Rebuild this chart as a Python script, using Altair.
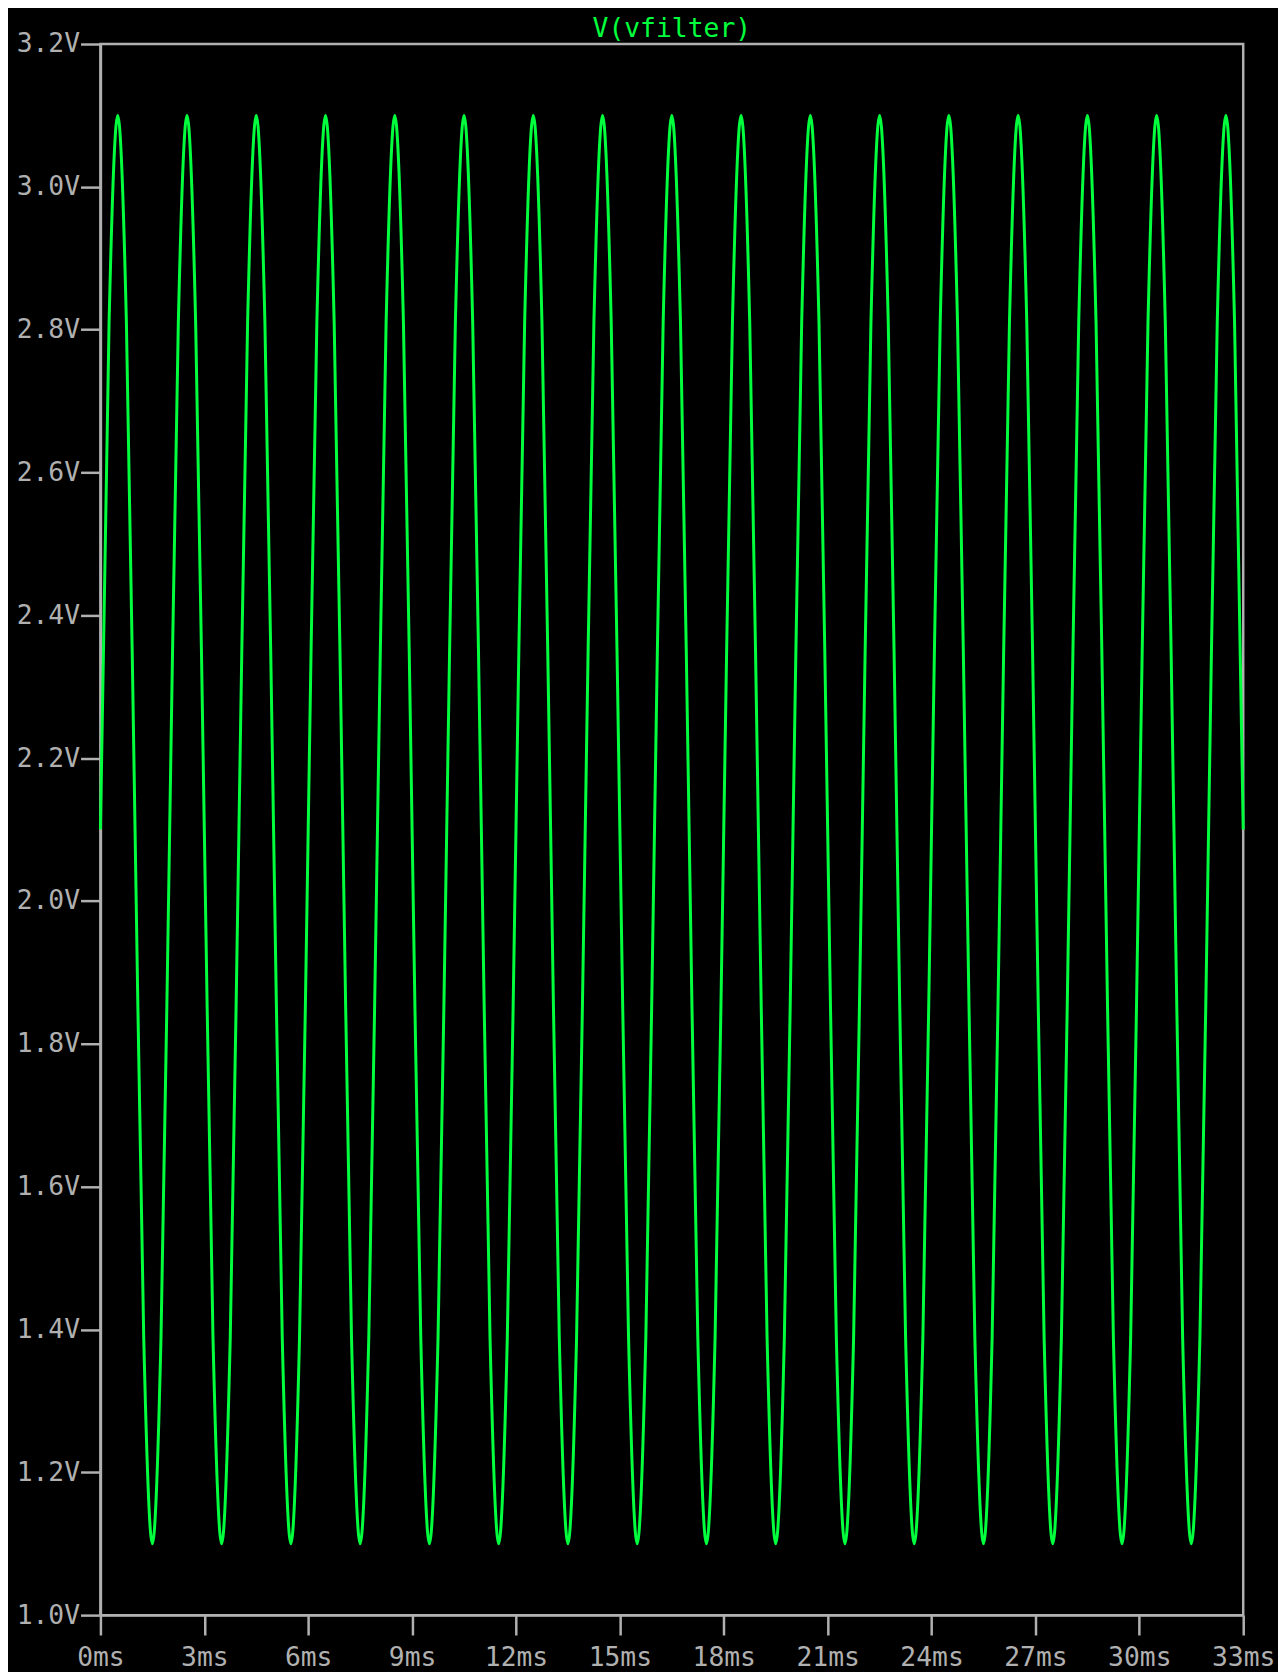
import altair as alt
import pandas as pd

# Voltage of V(vfilter) every 0.25 ms, 0 .. 33 ms
v_volts = [
    2.10, 2.81, 3.10, 2.81, 2.10, 1.39, 1.10, 1.39,
    2.10, 2.81, 3.10, 2.81, 2.10, 1.39, 1.10, 1.39,
    2.10, 2.81, 3.10, 2.81, 2.10, 1.39, 1.10, 1.39,
    2.10, 2.81, 3.10, 2.81, 2.10, 1.39, 1.10, 1.39,
    2.10, 2.81, 3.10, 2.81, 2.10, 1.39, 1.10, 1.39,
    2.10, 2.81, 3.10, 2.81, 2.10, 1.39, 1.10, 1.39,
    2.10, 2.81, 3.10, 2.81, 2.10, 1.39, 1.10, 1.39,
    2.10, 2.81, 3.10, 2.81, 2.10, 1.39, 1.10, 1.39,
    2.10, 2.81, 3.10, 2.81, 2.10, 1.39, 1.10, 1.39,
    2.10, 2.81, 3.10, 2.81, 2.10, 1.39, 1.10, 1.39,
    2.10, 2.81, 3.10, 2.81, 2.10, 1.39, 1.10, 1.39,
    2.10, 2.81, 3.10, 2.81, 2.10, 1.39, 1.10, 1.39,
    2.10, 2.81, 3.10, 2.81, 2.10, 1.39, 1.10, 1.39,
    2.10, 2.81, 3.10, 2.81, 2.10, 1.39, 1.10, 1.39,
    2.10, 2.81, 3.10, 2.81, 2.10, 1.39, 1.10, 1.39,
    2.10, 2.81, 3.10, 2.81, 2.10, 1.39, 1.10, 1.39,
    2.10, 2.81, 3.10, 2.81, 2.10,
]
t_ms = [i * 0.25 for i in range(len(v_volts))]

x_ticks = [0, 3, 6, 9, 12, 15, 18, 21, 24, 27, 30, 33]
y_ticks = [1.0, 1.2, 1.4, 1.6, 1.8, 2.0, 2.2, 2.4, 2.6, 2.8, 3.0, 3.2]
trace_name = ["V(vfilter)"]

df = pd.DataFrame({"t": t_ms, "v": v_volts})
title_df = pd.DataFrame({"label": trace_name})

FONT = "DejaVu Sans Mono"
GRAY = "#b0b0b0"
GREEN = "#00ff3c"
W, H = 1150, 1581

line = (
    alt.Chart(df)
    .mark_line(color=GREEN, strokeWidth=3, interpolate="monotone")
    .encode(
        x=alt.X(
            "t:Q",
            scale=alt.Scale(domain=[0, 33], nice=False, zero=False),
            axis=alt.Axis(
                values=x_ticks,
                labelExpr="datum.value + 'ms'",
                title=None,
                grid=False,
                tickSize=20,
                tickWidth=2.5,
                tickColor=GRAY,
                domainColor=GRAY,
                domainWidth=2.5,
                labelColor=GRAY,
                labelFont=FONT,
                labelFontSize=26.5,
                labelPadding=10,
                labelFlush=False,
                labelOverlap=False,
            ),
        ),
        y=alt.Y(
            "v:Q",
            scale=alt.Scale(domain=[1.0, 3.2], nice=False, zero=False),
            axis=alt.Axis(
                values=y_ticks,
                labelExpr="format(datum.value, '.1f') + 'V'",
                title=None,
                grid=False,
                tickSize=20,
                tickWidth=2.5,
                tickColor=GRAY,
                domainColor=GRAY,
                domainWidth=2.5,
                labelColor=GRAY,
                labelFont=FONT,
                labelFontSize=26.5,
                labelPadding=1,
                labelFlush=False,
                labelOverlap=False,
            ),
        ),
    )
)

title_text = (
    alt.Chart(title_df)
    .mark_text(
        font=FONT,
        fontSize=26.5,
        color=GREEN,
        align="center",
        baseline="alphabetic",
    )
    .encode(text="label:N", x=alt.value(W / 2), y=alt.value(-7))
)

chart = (
    alt.layer(line, title_text)
    .properties(
        width=W,
        height=H,
        autosize=alt.AutoSizeParams(type="none"),
        padding={"left": 93, "top": 31, "right": 35, "bottom": 52},
        background="black",
    )
    .configure_view(stroke=GRAY, strokeWidth=2.5, fill="black")
)

chart.save("out.html", embed_options={"renderer": "svg", "actions": False})
